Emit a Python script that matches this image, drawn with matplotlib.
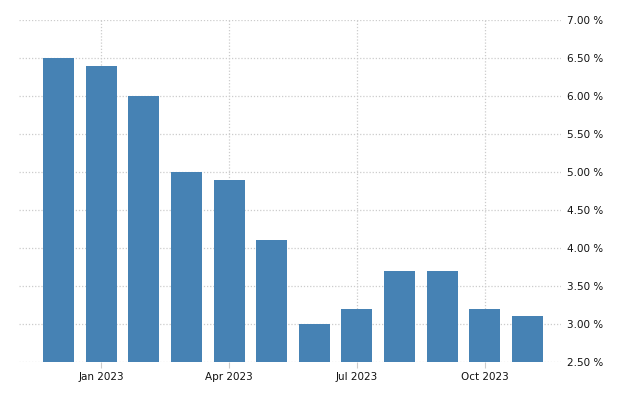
import matplotlib
matplotlib.use("Agg")
import matplotlib.pyplot as plt
from matplotlib.ticker import FuncFormatter

months = ["Dec 2022", "Jan 2023", "Feb 2023", "Mar 2023", "Apr 2023", "May 2023",
          "Jun 2023", "Jul 2023", "Aug 2023", "Sep 2023", "Oct 2023", "Nov 2023"]
values = [6.5, 6.4, 6.0, 5.0, 4.9, 4.1, 3.0, 3.2, 3.7, 3.7, 3.2, 3.1]
tick_idx = [1, 4, 7, 10]
tick_labels = ["Jan 2023", "Apr 2023", "Jul 2023", "Oct 2023"]

fig = plt.figure(figsize=(6.4, 4.0), dpi=100)
ax = fig.add_axes([0.0297, 0.095, 0.8469, 0.855])

x = list(range(len(values)))
ax.bar(x, [v - 2.5 for v in values], bottom=2.5, width=0.73, color="#4682b4", zorder=2)

ax.set_xlim(-0.93, 11.79)
ax.set_ylim(2.5, 7.0)
ax.set_yticks([2.5 + 0.5 * i for i in range(10)])
ax.yaxis.set_major_formatter(FuncFormatter(lambda v, p: f"{v:.2f} %"))
ax.yaxis.tick_right()
ax.set_xticks(tick_idx)
ax.set_xticklabels(tick_labels)

for s in ax.spines.values():
    s.set_visible(False)
ax.grid(True, color="#cccccc", linestyle=(0, (1, 1.5)), linewidth=0.9, zorder=0)
ax.tick_params(axis="y", length=0, pad=4, labelsize=7.5, labelcolor="#111111")
ax.tick_params(axis="x", length=4, color="#cccccc", pad=3, labelsize=7.5, labelcolor="#111111")

plt.savefig("out.png", dpi=100)
